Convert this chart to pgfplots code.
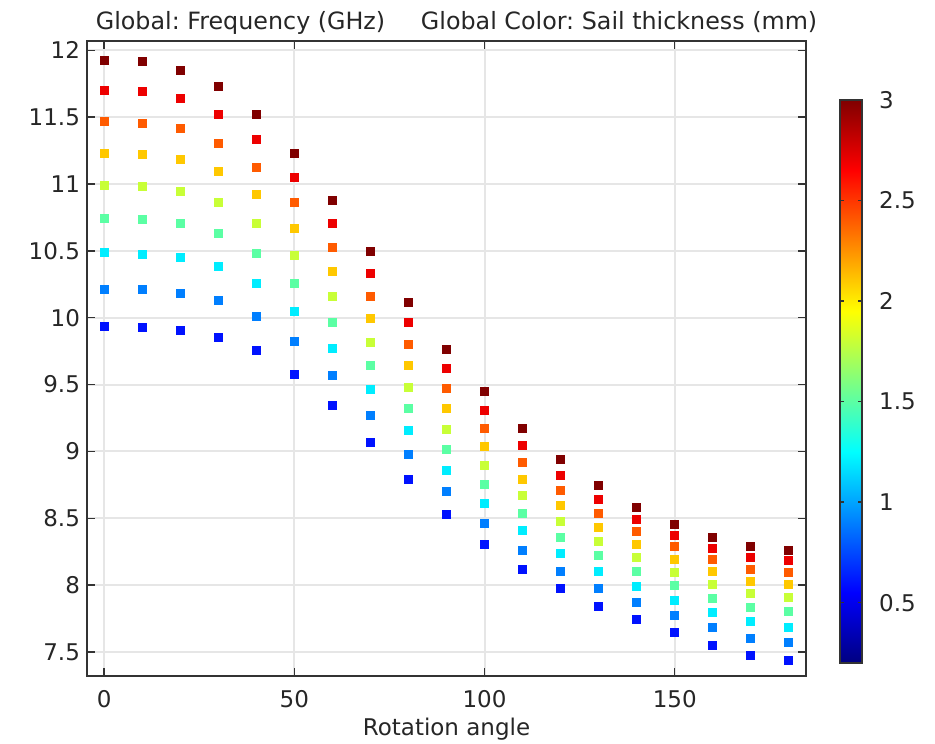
\documentclass[border=0pt]{standalone}
\usepackage{fontspec}
\setmainfont{DejaVu Sans}
\usepackage{pgfplots}
\pgfplotsset{compat=1.18}
\usepackage{pgfplotstable}
\frenchspacing

% frequency (GHz) per rotation angle, one column per sail thickness (mm)
\pgfplotstableread{
angle t06   t09    t12    t15    t18    t21    t24    t27    t30
0     9.936 10.215 10.490 10.740 10.990 11.232 11.469 11.702 11.927
10    9.928 10.210 10.477 10.732 10.982 11.222 11.457 11.690 11.915
20    9.903 10.185 10.453 10.702 10.948 11.182 11.414 11.639 11.852
30    9.855 10.127 10.385 10.633 10.865 11.094 11.307 11.522 11.732
40    9.758 10.010 10.253 10.483 10.708 10.920 11.127 11.332 11.522
50    9.578  9.825 10.045 10.258 10.465 10.665 10.860 11.049 11.232
60    9.343  9.565  9.768  9.968 10.163 10.347 10.527 10.705 10.879
70    9.070  9.273  9.463  9.642  9.818  9.993 10.163 10.330 10.497
80    8.790  8.975  9.160  9.318  9.480  9.642  9.803  9.963 10.118
90    8.531  8.701  8.861  9.018  9.168  9.318  9.468  9.618  9.762
100   8.301  8.461  8.611  8.756  8.898  9.035  9.173  9.310  9.448
110   8.118  8.263  8.406  8.538  8.668  8.793  8.918  9.048  9.173
120   7.972  8.106  8.235  8.360  8.478  8.597  8.712  8.821  8.938
130   7.839  7.974  8.101  8.219  8.326  8.433  8.538  8.643  8.743
140   7.740  7.869  7.987  8.099  8.204  8.303  8.398  8.493  8.583
150   7.644  7.770  7.887  7.994  8.097  8.194  8.286  8.371  8.456
160   7.552  7.680  7.799  7.904  8.007  8.099  8.189  8.273  8.356
170   7.472  7.605  7.725  7.832  7.936  8.029  8.121  8.209  8.288
180   7.435  7.570  7.687  7.802  7.906  8.007  8.094  8.181  8.263
}\freqdata

\definecolor{axcol}{HTML}{333333}
\definecolor{gridcol}{HTML}{E6E6E6}
\newcommand{\lblfont}{\fontsize{11.5}{13}\selectfont}

\pgfplotsset{
  colormap={rainbowjet}{rgb255(0cm)=(0,0,128) rgb255(1cm)=(0,0,255)
    rgb255(3cm)=(0,255,255) rgb255(5cm)=(255,255,0)
    rgb255(7cm)=(255,0,0) rgb255(8cm)=(128,0,0)},
  pts/.style={scatter, only marks, mark=square*, mark size=2pt,
    point meta={#1},
    scatter/use mapped color={draw=mapped color, fill=mapped color}},
}

\begin{document}
\begin{tikzpicture}
\begin{axis}[
  name=ax,
  at={(0,0)}, anchor=south west,
  scale only axis,
  width=359.5pt, height=317.5pt,
  xmin=-4.5, xmax=184.5,
  ymin=7.32, ymax=12.07,
  xtick={0,50,100,150},
  ytick={7.5,8,8.5,9,9.5,10,10.5,11,11.5,12},
  tick align=inside,
  major tick length=4pt,
  grid=major,
  grid style={gridcol, line width=1pt},
  axis line style={axcol, line width=0.7pt},
  tick style={axcol, line width=0.7pt},
  font=\lblfont,
  ticklabel style={font=\lblfont, text=black!85},
  /pgf/number format/assume math mode=true,
  xticklabel style={anchor=base, yshift=-15.5pt},
  xlabel={Rotation angle},
  xlabel style={at={(0.5,0)}, anchor=base, yshift=-29.5pt, text=black!85},
  title={Global: Frequency (GHz)\hspace{1.5em}Global Color: Sail thickness (mm)},
  title style={at={(0.5,1)}, anchor=base, yshift=-0.5pt, xshift=5pt,
    text=black!85, font=\fontsize{11.9}{13}\selectfont},
  colormap name=rainbowjet,
  point meta min=0.2, point meta max=3,
  colorbar,
  colorbar style={
    scale only axis,
    width=11pt, height=281.5pt,
    at={(parent axis.south east)}, anchor=south west,
    xshift=8.5pt, yshift=6.5pt,
    ytick={0.5,1,1.5,2,2.5,3},
    tick align=inside,
    major tick length=2pt,
    axis line style={axcol, line width=0.7pt},
    tick style={axcol, line width=0.7pt},
    yticklabel style={font=\lblfont, text=black!85, xshift=5pt},
    /pgf/number format/assume math mode=true,
  },
]
\addplot[pts=0.6] table[x=angle, y=t06] {\freqdata};
\addplot[pts=0.9] table[x=angle, y=t09] {\freqdata};
\addplot[pts=1.2] table[x=angle, y=t12] {\freqdata};
\addplot[pts=1.5] table[x=angle, y=t15] {\freqdata};
\addplot[pts=1.8] table[x=angle, y=t18] {\freqdata};
\addplot[pts=2.1] table[x=angle, y=t21] {\freqdata};
\addplot[pts=2.4] table[x=angle, y=t24] {\freqdata};
\addplot[pts=2.7] table[x=angle, y=t27] {\freqdata};
\addplot[pts=3.0] table[x=angle, y=t30] {\freqdata};
\end{axis}
\pgfresetboundingbox
\path ([xshift=-43.5pt, yshift=-33.5pt]ax.south west)
  rectangle ([xshift=424pt, yshift=338pt]ax.south west);
\end{tikzpicture}
\end{document}
